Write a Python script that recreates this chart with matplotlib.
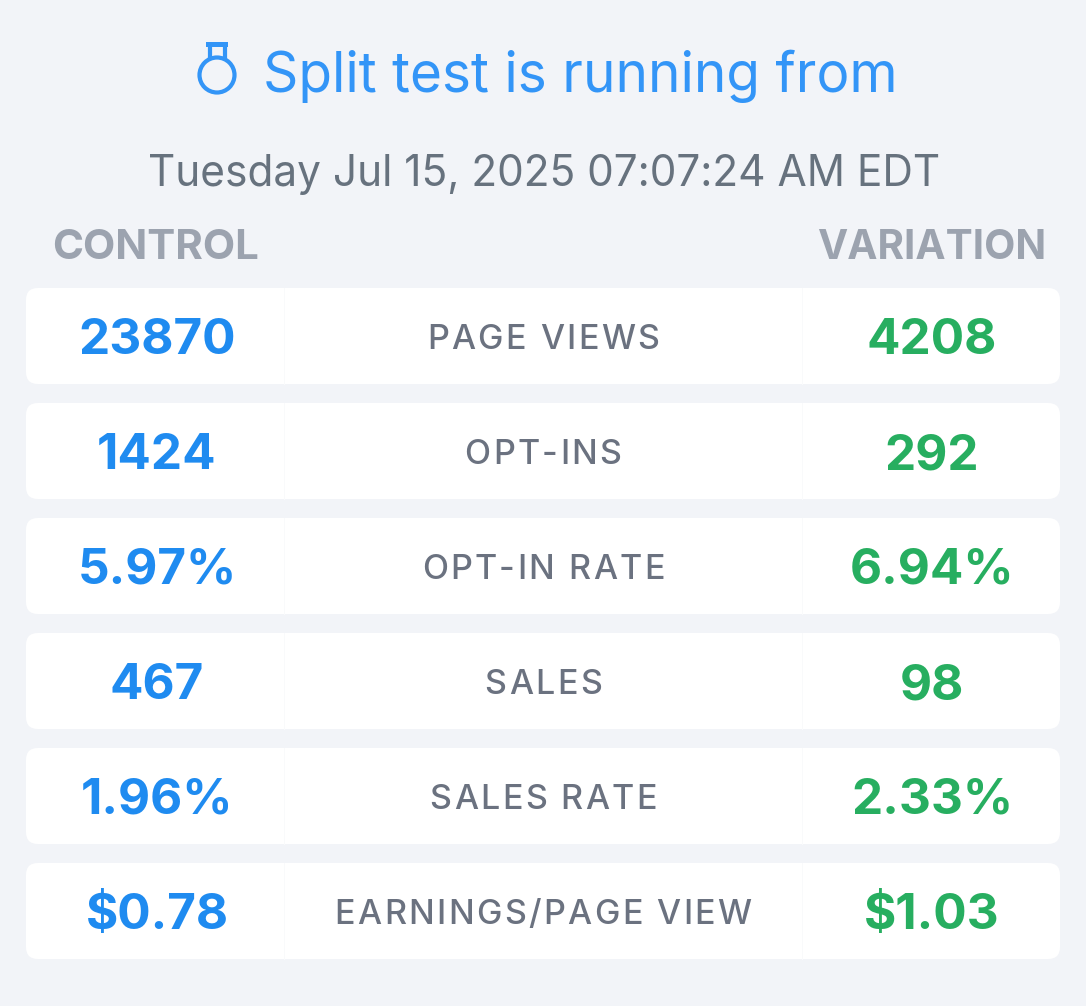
import matplotlib
matplotlib.use("Agg")
import matplotlib.pyplot as plt
from matplotlib.patches import FancyBboxPatch, Circle, Rectangle
from matplotlib.font_manager import FontProperties
from matplotlib.textpath import text_to_path

W, H, DPI = 1086, 1006, 100

title = "Split test is running from"
started = "Tuesday Jul 15, 2025 07:07:24 AM EDT"
col_heads = ["CONTROL", "VARIATION"]
metrics = ["PAGE VIEWS", "OPT-INS", "OPT-IN RATE", "SALES", "SALES RATE", "EARNINGS/PAGE VIEW"]
control = ["23870", "1424", "5.97%", "467", "1.96%", "$0.78"]
variation = ["4208", "292", "6.94%", "98", "2.33%", "$1.03"]

BG = "#f2f4f8"
BLUE_T = "#3395f7"
BLUE = "#1f8bf0"
GREEN = "#27ae60"
GRAY_H = "#9ca3af"
GRAY_L = "#6b7280"
GRAY_D = "#67727e"

fig = plt.figure(figsize=(W / DPI, H / DPI), dpi=DPI, facecolor=BG)
ax = fig.add_axes([0, 0, 1, 1])
ax.set_xlim(0, W)
ax.set_ylim(H, 0)
ax.axis("off")
ax.set_facecolor(BG)

px = 72 / DPI  # points per pixel


def tracked(x, y, s, size, color, weight="normal", spacing=0.0):
    """centered text with letter spacing (pixels), baseline at y"""
    prop = FontProperties(family="Inter", weight=weight, size=size)
    def wid(t):
        if not t:
            return 0.0
        w, _, _ = text_to_path.get_text_width_height_descent(t.replace(" ", "\u00a0"), prop, ismath=False)
        return w / px
    total = wid(s) + spacing * (len(s) - 1)
    x0 = x - total / 2
    for i, ch in enumerate(s):
        ax.text(x0 + wid(s[:i]) + spacing * i, y, ch, fontproperties=prop,
                color=color, ha="left", va="baseline")


# header: flask icon + title
ax.add_patch(Circle((217, 75), 17.5, fill=False, lw=4.2 * px, ec=BLUE_T))
ax.plot([209.5, 209.5], [47, 60], color=BLUE_T, lw=4.2 * px, solid_capstyle="butt")
ax.plot([224.5, 224.5], [47, 60], color=BLUE_T, lw=4.2 * px, solid_capstyle="butt")
ax.add_patch(Rectangle((206, 42), 22, 5, color=BLUE_T, lw=0))
ax.text(263, 92, title, family="Inter", fontsize=55 * px, color=BLUE_T, ha="left", va="baseline")

ax.text(544, 186, started, family="Inter", fontsize=42.4 * px, color=GRAY_D, ha="center", va="baseline")

ax.text(156, 259, col_heads[0], family="Inter", weight="bold", fontsize=42 * px,
        color=GRAY_H, ha="center", va="baseline")
ax.text(932, 259, col_heads[1], family="Inter", weight="bold", fontsize=40.5 * px,
        color=GRAY_H, ha="center", va="baseline")

x_ctrl, x_lab, x_var = 157, 543, 932
top, step, card_h = 288, 115, 96
for i, (m, c, v) in enumerate(zip(metrics, control, variation)):
    y0 = top + i * step
    ax.add_patch(FancyBboxPatch((26 + 12, y0 + 12), 1034 - 24, card_h - 24,
                                boxstyle="round,pad=12", fc="white", ec="none"))
    for sx in (284, 802):
        ax.plot([sx, sx], [y0, y0 + card_h], color="#f9fafb", lw=1.0 * px)
    yb = y0 + card_h / 2 + 18
    ax.text(x_ctrl, yb, c, family="Inter", weight="bold", fontsize=49.5 * px,
            color=BLUE, ha="center", va="baseline")
    ax.text(x_var, yb, v, family="Inter", weight="bold", fontsize=49.5 * px,
            color=GREEN, ha="center", va="baseline")
    tracked(x_lab, y0 + card_h / 2 + 13, m, 34 * px, GRAY_L, weight="medium", spacing=2.4)

fig.savefig("out.png", dpi=DPI, facecolor=BG)
